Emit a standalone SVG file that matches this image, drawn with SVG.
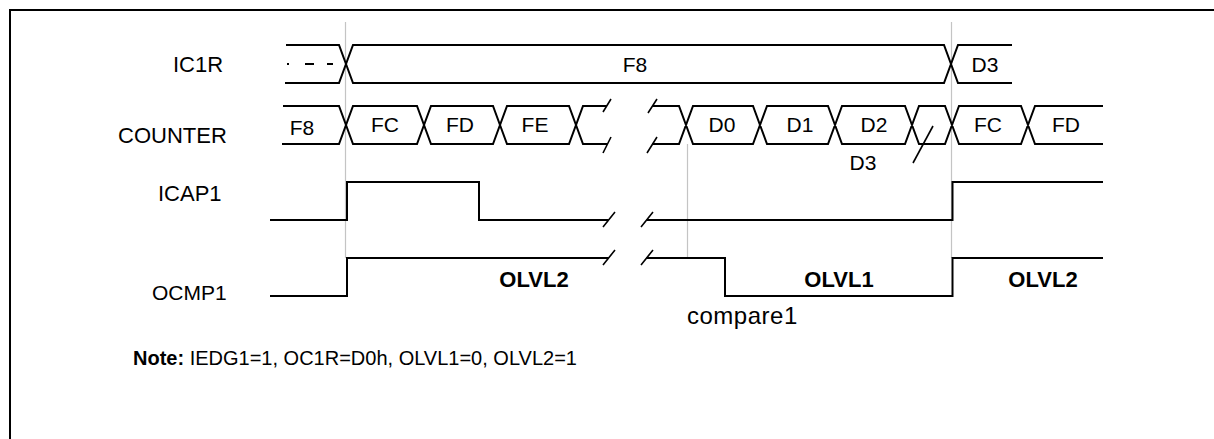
<svg xmlns="http://www.w3.org/2000/svg" width="1214" height="439" viewBox="0 0 1214 439">
<style>
text{font-family:"Liberation Sans",Arial,sans-serif;fill:#000}
.lbl{font-size:22px}
.val{font-size:21px;text-anchor:middle}
.bold{font-size:22px;font-weight:bold;text-anchor:middle}
.sig{fill:none;stroke:#000;stroke-width:2}
.thin{fill:none;stroke:#000;stroke-width:1.6}
.ref{fill:none;stroke:#c4c4c4;stroke-width:1.2}
</style>
<rect width="1214" height="439" fill="#fff"/>
<path d="M10,439 V10 H1214" fill="none" stroke="#000" stroke-width="2"/>
<g id="connectors">
<path class="ref" d="M345.5,22 V258 M687.5,144 V258 M951.5,22 V258"/>
</g>
<g id="ic1r">
<text class="lbl" x="173" y="72">IC1R</text>
<path class="sig" d="M286,45 H339 L353,83 H944 L958,45 H1012 M285,83 H339 L353,45 H944 L958,83 H1012"/>
<path d="M287,64 H333" stroke="#000" stroke-width="2" stroke-dasharray="2,16 9,13 6,0" fill="none"/>
<text class="val" x="635" y="71.5">F8</text>
<text class="val" x="985" y="71.5">D3</text>
</g>
<g id="counter">
<text class="lbl" x="118" y="143">COUNTER</text>
<path class="sig" d="M283,106 H339 L353,144 H417 L431,106 H493 L507,144 H569 L583,106 H607 M282,144 H339 L353,106 H417 L431,144 H493 L507,106 H569 L583,144 H607.5"/>
<path class="thin" d="M603,112 L611,99 M603,153 L611,137 M648,113 L657,99 M647,153 L657,137"/>
<path class="sig" d="M652,106 H679 L693,144 H753 L767,106 H828 L842,144 H905 L919,106 H945 L959,144 H1021 L1035,106 H1103 M652,144 H679 L693,106 H753 L767,144 H828 L842,106 H905 L919,144 H945 L959,106 H1021 L1035,144 H1103"/>
<path class="thin" d="M913,163 L933,126"/>
<text class="val" x="302" y="135">F8</text>
<text class="val" x="385" y="132">FC</text>
<text class="val" x="460" y="132">FD</text>
<text class="val" x="535" y="132">FE</text>
<text class="val" x="722" y="132">D0</text>
<text class="val" x="800" y="132">D1</text>
<text class="val" x="874" y="132">D2</text>
<text class="val" x="988" y="132">FC</text>
<text class="val" x="1066" y="132">FD</text>
<text class="val" x="863" y="170">D3</text>
</g>
<g id="icap1">
<text class="lbl" x="158" y="201">ICAP1</text>
<path class="sig" d="M270,220 H347 V182 H479 V220 H608.6 M646.6,220 H952.5 V182 H1103"/>
<path class="thin" d="M603,227 L615,212 M641,227 L653,212"/>
</g>
<g id="ocmp1">
<text class="lbl" x="152" y="300" style="font-size:21px">OCMP1</text>
<path class="sig" d="M270,296 H347 V258 H608.6 M646.6,258 H725 V296 H952.5 V258 H1103"/>
<path class="thin" d="M603,265 L615,250 M641,265 L653,250"/>
<text class="bold" x="534" y="287">OLVL2</text>
<text class="bold" x="839" y="287">OLVL1</text>
<text class="bold" x="1043" y="287">OLVL2</text>
<text class="lbl" x="687" y="324" style="font-size:24px;letter-spacing:0.5px">compare1</text>
</g>
<g id="note">
<text class="lbl" x="133" y="365" style="font-size:20px"><tspan font-weight="bold">Note:</tspan> IEDG1=1, OC1R=D0h, OLVL1=0, OLVL2=1</text>
</g>
</svg>
